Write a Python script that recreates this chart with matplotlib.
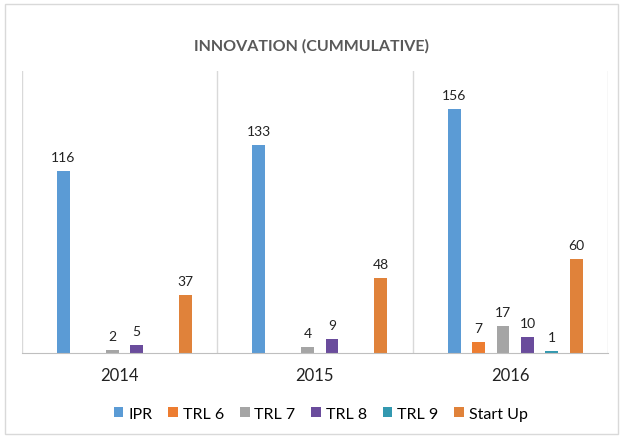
import numpy as np
import matplotlib
matplotlib.use('Agg')
import matplotlib.pyplot as plt
from matplotlib.patches import Rectangle

plt.rcParams['font.family'] = ['Lato', 'DejaVu Sans']

years = ['2014', '2015', '2016']
series = ['IPR', 'TRL 6', 'TRL 7', 'TRL 8', 'TRL 9', 'Start Up']
ipr = [116, 133, 156]
trl6 = [0, 0, 7]
trl7 = [2, 4, 17]
trl8 = [5, 9, 10]
trl9 = [0, 0, 1]
startup = [37, 48, 60]
colors = ['#5B9BD5', '#ED7D31', '#A5A5A5', '#6A4C9C', '#3399B0', '#E0823A']

values = [ipr, trl6, trl7, trl8, trl9, startup]

fig = plt.figure(figsize=(6.23, 4.39), dpi=100)
ax = fig.add_axes([0.035, 0.194, 0.941, 0.642])

x = np.arange(len(years))
slot = 0.125
width = 0.066
offsets = (np.arange(len(series)) - 2.5) * slot + 0.025

for vals, name, col, off in zip(values, series, colors, offsets):
    bars = ax.bar(x + off, vals, width, color=col, label=name)
    for b, v in zip(bars, vals):
        if v > 0:
            ax.text(b.get_x() + b.get_width() / 2, v + 5, str(v),
                    ha='center', va='bottom', fontsize=10, color='#222222')

ax.set_xlim(-0.5, 2.5)
ax.set_ylim(0, 180)
for s in ['top', 'right', 'left']:
    ax.spines[s].set_visible(False)
ax.spines['bottom'].set_color('#BFBFBF')
for b in [-0.5, 0.5, 1.5, 2.5]:
    ax.axvline(b, color='#D9D9D9', linewidth=1, zorder=0)
ax.set_yticks([])
ax.set_xticks(x)
ax.set_xticklabels(years, fontsize=12, color='#222222')
ax.tick_params(axis='x', length=0, pad=10)

fig.text(0.5, 0.895, 'INNOVATION (CUMMULATIVE)', ha='center', va='center',
         fontsize=11.5, color='#595959', fontweight='bold')

fig.legend(loc='center', bbox_to_anchor=(0.515, 0.055), ncol=6, frameon=False,
           fontsize=11.5, handlelength=0.6, handleheight=0.6, handletextpad=0.3,
           columnspacing=1.0)

fig.patches.append(Rectangle((0.008, 0.008), 0.984, 0.98, transform=fig.transFigure,
                             fill=False, edgecolor='#D9D9D9', linewidth=1))

fig.savefig('out.png', dpi=100)
